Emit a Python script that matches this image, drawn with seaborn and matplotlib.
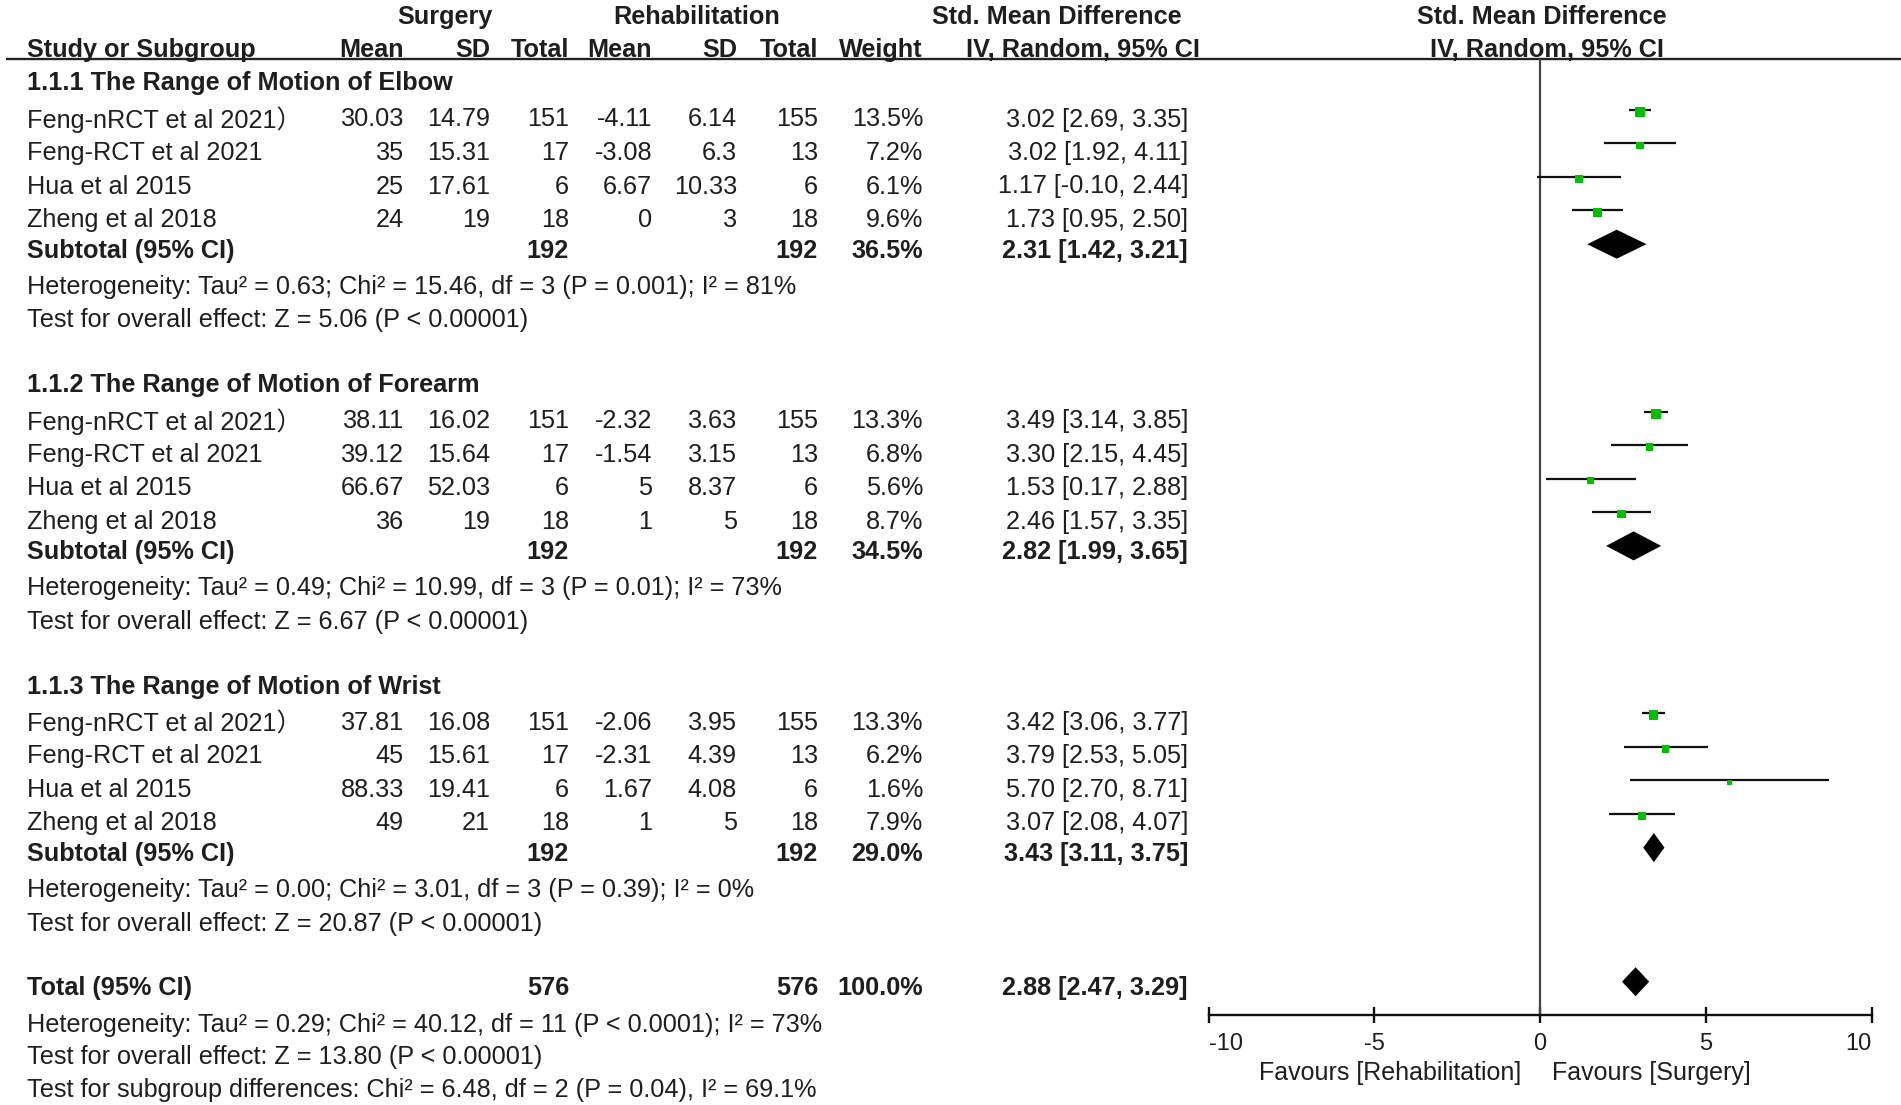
import numpy as np
import pandas as pd
import matplotlib
matplotlib.use("Agg")
import matplotlib.pyplot as plt
import seaborn as sns

# ---- data ----
groups = ["1.1.1 The Range of Motion of Elbow",
          "1.1.2 The Range of Motion of Forearm",
          "1.1.3 The Range of Motion of Wrist"]
study_names = ["Feng-nRCT et al 2021）", "Feng-RCT et al 2021", "Hua et al 2015", "Zheng et al 2018"]

surg_mean = [30.03, 35, 25, 24, 38.11, 39.12, 66.67, 36, 37.81, 45, 88.33, 49]
surg_sd = [14.79, 15.31, 17.61, 19, 16.02, 15.64, 52.03, 19, 16.08, 15.61, 19.41, 21]
surg_n = [151, 17, 6, 18, 151, 17, 6, 18, 151, 17, 6, 18]
rehab_mean = [-4.11, -3.08, 6.67, 0, -2.32, -1.54, 5, 1, -2.06, -2.31, 1.67, 1]
rehab_sd = [6.14, 6.3, 10.33, 3, 3.63, 3.15, 8.37, 5, 3.95, 4.39, 4.08, 5]
rehab_n = [155, 13, 6, 18, 155, 13, 6, 18, 155, 13, 6, 18]
weight = [13.5, 7.2, 6.1, 9.6, 13.3, 6.8, 5.6, 8.7, 13.3, 6.2, 1.6, 7.9]
smd = [3.02, 3.02, 1.17, 1.73, 3.49, 3.30, 1.53, 2.46, 3.42, 3.79, 5.70, 3.07]
ci_lo = [2.69, 1.92, -0.10, 0.95, 3.14, 2.15, 0.17, 1.57, 3.06, 2.53, 2.70, 2.08]
ci_hi = [3.35, 4.11, 2.44, 2.50, 3.85, 4.45, 2.88, 3.35, 3.77, 5.05, 8.71, 4.07]

sub_n_surg = [192, 192, 192]
sub_n_rehab = [192, 192, 192]
sub_weight = [36.5, 34.5, 29.0]
sub_smd = [2.31, 2.82, 3.43]
sub_lo = [1.42, 1.99, 3.11]
sub_hi = [3.21, 3.65, 3.75]
sub_het = ["Heterogeneity: Tau² = 0.63; Chi² = 15.46, df = 3 (P = 0.001); I² = 81%",
           "Heterogeneity: Tau² = 0.49; Chi² = 10.99, df = 3 (P = 0.01); I² = 73%",
           "Heterogeneity: Tau² = 0.00; Chi² = 3.01, df = 3 (P = 0.39); I² = 0%"]
sub_test = ["Test for overall effect: Z = 5.06 (P < 0.00001)",
            "Test for overall effect: Z = 6.67 (P < 0.00001)",
            "Test for overall effect: Z = 20.87 (P < 0.00001)"]

tot_n_surg = 576
tot_n_rehab = 576
tot_weight = 100.0
tot_smd, tot_lo, tot_hi = 2.88, 2.47, 3.29
tot_notes = ["Heterogeneity: Tau² = 0.29; Chi² = 40.12, df = 11 (P < 0.0001); I² = 73%",
             "Test for overall effect: Z = 13.80 (P < 0.00001)",
             "Test for subgroup differences: Chi² = 6.48, df = 2 (P = 0.04), I² = 69.1%"]

xticks = [-10, -5, 0, 5, 10]
left_label = "Favours [Rehabilitation]"
right_label = "Favours [Surgery]"

# ---- layout (pixel units) ----
W, H = 1901, 1105
sns.set_theme(style="white")
plt.rcParams['font.family'] = ['Liberation Sans', 'Noto Sans CJK SC', 'DejaVu Sans']
txt = "#1e1e1e"
fs = 18.2

fig = plt.figure(figsize=(W / 100, H / 100), dpi=100)
ax = fig.add_axes([0, 0, 1, 1])
ax.set_xlim(0, W)
ax.set_ylim(H, 0)
ax.axis('off')

axis_y = 1015
fx0, fx1 = 1208.5, 1871.7
fa = fig.add_axes([fx0 / W, (H - axis_y) / H, (fx1 - fx0) / W, axis_y / H])
fa.set_xlim(-10, 10)
fa.set_ylim(axis_y, 0)
fa.patch.set_alpha(0)
for s in ['top', 'right', 'left']:
    fa.spines[s].set_visible(False)
fa.spines['bottom'].set_linewidth(1.7)
fa.spines['bottom'].set_color("#111111")
fa.set_yticks([])
fa.set_xticks(xticks)
fa.set_xticklabels([str(t) for t in xticks])
fa.tick_params(axis='x', bottom=True, direction='inout', length=12, width=1.7,
               pad=7, labelsize=17, colors="#111111", labelcolor=txt)
tl = fa.get_xticklabels()
tl[0].set_ha('left')
tl[-1].set_ha('right')

cols_x = [404, 490, 569, 652, 737, 818, 923, 1188]
lx = 27

def put(x, y, s, ha='left', bold=False, size=fs):
    ax.text(x, y, s, ha=ha, va='center', fontsize=size,
            fontweight='bold' if bold else 'normal', color=txt)

# header
put(445, 16.7, "Surgery", 'center', True)
put(697, 16.7, "Rehabilitation", 'center', True)
put(1057, 16.7, "Std. Mean Difference", 'center', True)
put(1083, 50, "IV, Random, 95% CI", 'center', True)
put(1542, 16.7, "Std. Mean Difference", 'center', True)
put(1547, 50, "IV, Random, 95% CI", 'center', True)
put(lx, 50, "Study or Subgroup", 'left', True)
for x, s in zip(cols_x[:7], ["Mean", "SD", "Total", "Mean", "SD", "Total", "Weight"]):
    put(x, 50, s, 'right', True)
ax.hlines(59.3, 6, W, color="#222222", lw=1.7)
fa.vlines(0, 59.3, axis_y, color="#444444", lw=1.6)

# rows
block_top = [83.3, 385.0, 686.7]
rows = []
for g in range(3):
    y0 = block_top[g]
    put(lx, y0, groups[g], bold=True)
    for i in range(4):
        k = g * 4 + i
        y = y0 + 36.2 + 33.5 * i
        put(lx, y, study_names[i])
        vals = ["{:g}".format(surg_mean[k]), "{:g}".format(surg_sd[k]), str(surg_n[k]),
                "{:g}".format(rehab_mean[k]), "{:g}".format(rehab_sd[k]), str(rehab_n[k]),
                "{:.1f}%".format(weight[k]),
                "{:.2f} [{:.2f}, {:.2f}]".format(smd[k], ci_lo[k], ci_hi[k])]
        for x, s in zip(cols_x, vals):
            put(x, y, s, 'right')
        rows.append({"smd": smd[k], "lo": ci_lo[k], "hi": ci_hi[k],
                     "w": weight[k], "y": y - 9.5})
    ys = y0 + 167.4
    put(lx, ys, "Subtotal (95% CI)", bold=True)
    put(cols_x[2], ys, str(sub_n_surg[g]), 'right', True)
    put(cols_x[5], ys, str(sub_n_rehab[g]), 'right', True)
    put(cols_x[6], ys, "{:.1f}%".format(sub_weight[g]), 'right', True)
    put(cols_x[7], ys, "{:.2f} [{:.2f}, {:.2f}]".format(sub_smd[g], sub_lo[g], sub_hi[g]), 'right', True)
    yc = ys - 6.5
    fa.fill([sub_lo[g], sub_smd[g], sub_hi[g], sub_smd[g]], [yc, yc - 14.5, yc, yc + 14.5],
            color="black", lw=0)
    put(lx, y0 + 203.4, sub_het[g])
    put(lx, y0 + 237.0, sub_test[g])

yt = 988.3
put(lx, yt, "Total (95% CI)", bold=True)
put(cols_x[2], yt, str(tot_n_surg), 'right', True)
put(cols_x[5], yt, str(tot_n_rehab), 'right', True)
put(cols_x[6], yt, "{:.1f}%".format(tot_weight), 'right', True)
put(cols_x[7], yt, "{:.2f} [{:.2f}, {:.2f}]".format(tot_smd, tot_lo, tot_hi), 'right', True)
yc = yt - 6.6
fa.fill([tot_lo, tot_smd, tot_hi, tot_smd], [yc, yc - 14.5, yc, yc + 14.5], color="black", lw=0)
for y, s in zip([1025, 1056.7, 1090], tot_notes):
    put(lx, y, s)

# study markers and CIs
df = pd.DataFrame(rows)
fa.hlines(df["y"], df["lo"], df["hi"], color="#111111", lw=1.6)
df["ym"] = df["y"] + 2
sns.scatterplot(data=df, x="smd", y="ym", size="w", sizes=(14, 52), size_norm=(1.6, 13.5),
                marker="s", color="#00bf00", linewidth=0, legend=False, ax=fa, zorder=3)
fa.set_xlabel("")
fa.set_ylabel("")
fa.set_xlim(-10, 10)
fa.set_ylim(axis_y, 0)

put(1521.7, 1072.7, left_label, 'right', size=18)
put(1551.7, 1072.7, right_label, 'left', size=18)

fig.savefig("out.png", dpi=100, facecolor="white")
